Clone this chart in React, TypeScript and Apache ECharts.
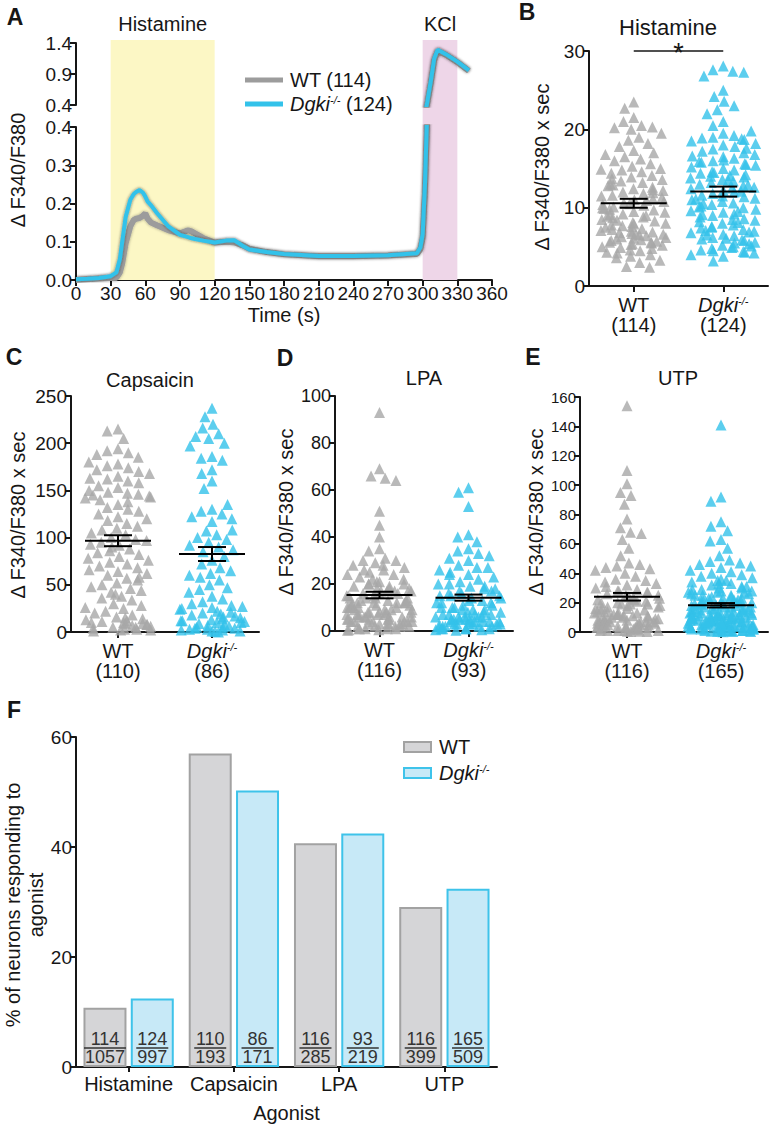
import React, { useEffect, useRef } from 'react';
import * as echarts from 'echarts';

const FONT = 'Liberation Sans, Arial, Helvetica, sans-serif';
const INK = '#161616';
const GRAY = '#a8a8a8';
const CYAN = '#33c2ea';

// ---------- Panel A: calcium traces ----------
const traceTime = [0, 10, 20, 30, 35, 38, 40, 43, 47, 50, 52, 55, 58, 60, 62, 65, 70, 80, 90, 97, 100, 103, 110, 120, 130, 137, 145, 150, 165, 180, 210, 240, 270, 295, 298, 300, 302, 304, 307, 310, 313, 320, 330, 340];
const traceWT = [0.0, 0.002, 0.004, 0.005, 0.006, 0.02, 0.043, 0.096, 0.14, 0.157, 0.16, 0.162, 0.168, 0.174, 0.16, 0.15, 0.143, 0.13, 0.122, 0.13, 0.127, 0.122, 0.11, 0.098, 0.1, 0.098, 0.09, 0.082, 0.073, 0.067, 0.062, 0.062, 0.064, 0.068, 0.08, 0.11, 0.23, 0.42, 0.75, 1.12, 1.27, 1.21, 1.09, 0.95];
const traceKO = [0.002, 0.003, 0.005, 0.01, 0.02, 0.055, 0.1, 0.165, 0.21, 0.225, 0.23, 0.235, 0.228, 0.218, 0.205, 0.195, 0.175, 0.14, 0.118, 0.112, 0.109, 0.107, 0.103, 0.098, 0.103, 0.104, 0.088, 0.08, 0.073, 0.068, 0.063, 0.063, 0.065, 0.07, 0.085, 0.12, 0.25, 0.45, 0.78, 1.15, 1.29, 1.22, 1.1, 0.96];
const stimulusNames = ['Histamine', 'KCl'];
const stimulusStart = [30, 300];
const stimulusEnd = [120, 330];
const traceNames = ['WT (114)', 'Dgki (124)'];

// ---------- Panels B–E: responses per neuron ----------
const groupLabels = ['WT', 'Dgki'];

const histWT = [23.5, 22.7, 21.5, 21.0, 20.5, 20.3, 20.2, 20.0, 19.5, 19.0, 18.6, 18.2, 17.8, 17.3, 17.0, 16.5, 16.2, 16.0, 15.6, 15.3, 15.0, 14.8, 14.6, 14.4, 14.1, 13.9, 13.6, 13.4, 13.2, 13.0, 12.8, 12.6, 12.4, 12.2, 12.0, 11.8, 11.6, 11.5, 11.3, 11.1, 11.0, 10.8, 10.6, 10.5, 10.3, 10.1, 10.0, 9.8, 9.7, 9.5, 9.4, 9.2, 9.1, 9.0, 8.8, 8.7, 8.5, 8.4, 8.3, 8.1, 8.0, 7.9, 7.7, 7.6, 7.5, 7.3, 7.2, 7.1, 7.0, 6.9, 6.8, 6.7, 6.6, 6.5, 6.4, 6.3, 6.2, 6.1, 6.0, 5.9, 5.8, 5.7, 5.6, 5.5, 5.4, 5.3, 5.2, 5.0, 4.9, 4.8, 4.6, 4.5, 4.3, 4.2, 4.0, 3.8, 3.6, 3.3, 3.0, 2.5, 2.4, 14.9, 12.9, 11.9, 10.9, 9.9, 8.9, 7.8, 6.6, 5.6, 16.8, 13.7, 12.3, 10.4];
const histKO = [28.1, 27.6, 27.4, 27.3, 26.8, 25.0, 24.2, 23.6, 23.0, 22.5, 22.0, 21.0, 20.5, 19.5, 19.2, 19.0, 18.9, 18.7, 18.5, 18.0, 17.8, 17.5, 17.2, 17.0, 16.8, 16.5, 16.3, 16.0, 15.8, 15.6, 15.4, 15.2, 15.0, 14.8, 14.6, 14.4, 14.2, 14.0, 13.8, 13.6, 13.4, 13.2, 13.0, 12.8, 12.6, 12.4, 12.2, 12.0, 11.8, 11.6, 11.4, 11.2, 11.0, 10.8, 10.6, 10.4, 10.2, 10.0, 9.8, 9.6, 9.4, 9.2, 9.0, 8.8, 8.6, 8.4, 8.2, 8.0, 7.8, 7.6, 7.4, 7.2, 7.0, 6.8, 6.6, 6.4, 6.2, 6.0, 5.8, 5.6, 5.4, 5.2, 5.0, 4.8, 4.6, 4.4, 4.2, 4.0, 3.8, 3.2, 17.6, 16.6, 15.5, 14.5, 13.5, 12.5, 11.5, 10.5, 9.5, 8.5, 7.5, 6.5, 5.5, 4.5, 19.8, 18.2, 16.1, 14.1, 12.1, 11.1, 10.1, 9.1, 8.1, 7.1, 6.1, 5.1, 4.3, 15.9, 13.9, 12.9, 6.9, 5.9, 4.9, 18.8];
const capWT = [215, 213, 205, 194, 192, 190, 188, 178, 176, 174, 172, 170, 165, 162, 160, 158, 155, 153, 148, 147, 146, 145, 144, 143, 142, 135, 132, 130, 128, 125, 122, 120, 118, 115, 112, 110, 108, 105, 103, 100, 98, 97, 95, 93, 92, 90, 88, 86, 84, 82, 80, 78, 76, 74, 72, 70, 68, 66, 64, 62, 60, 57, 55, 52, 50, 48, 46, 44, 42, 40, 38, 36, 34, 30, 28, 25, 22, 20, 18, 16, 14, 13, 12, 11, 10, 10, 9, 9, 8, 8, 7, 6, 5, 5, 4, 3, 3, 2, 2, 1, 150, 140, 138, 163, 168, 185, 180, 58, 26, 15];
const capKO = [237, 228, 220, 216, 210, 207, 205, 200, 197, 186, 184, 182, 172, 168, 160, 152, 130, 128, 125, 122, 120, 117, 107, 103, 100, 98, 95, 92, 90, 85, 80, 76, 72, 68, 65, 62, 58, 55, 50, 47, 45, 42, 38, 35, 32, 30, 28, 27, 26, 25, 24, 22, 20, 19, 18, 17, 16, 15, 14, 13, 12, 11, 10, 10, 9, 8, 7, 6, 5, 5, 4, 4, 3, 3, 2, 2, 1, 1, 0.5, 0, 135, 108, 87, 60, 21, 12];
const lpaWT = [93, 69, 66, 65, 64, 51, 45, 40, 35, 34, 31, 30, 30, 29, 28, 27, 26, 25, 24, 24, 23, 22, 22, 21, 21, 20, 20, 19, 19, 18, 18, 18, 17, 17, 17, 16, 16, 16, 15, 15, 15, 14, 14, 14, 13, 13, 13, 12, 12, 12, 12, 11, 11, 11, 11, 10, 10, 10, 10, 9, 9, 9, 9, 8, 8, 8, 8, 7, 7, 7, 7, 7, 6, 6, 6, 6, 6, 5, 5, 5, 5, 5, 4, 4, 4, 4, 4, 3, 3, 3, 3, 3, 3, 2, 2, 2, 2, 2, 1, 1, 1, 1, 1, 0.5, 0.5, 0.3, 28, 26, 20, 17, 14, 12, 10, 8, 6, 4];
const lpaKO = [61, 59, 53, 41, 40, 38, 35, 34, 33, 32, 31, 30, 28, 27, 27, 25, 24, 23, 22, 21, 20, 20, 19, 18, 18, 17, 17, 16, 16, 15, 15, 14, 14, 13, 13, 12, 12, 11, 11, 10, 10, 10, 9, 9, 9, 8, 8, 8, 7, 7, 7, 7, 6, 6, 6, 6, 5, 5, 5, 5, 5, 4, 4, 4, 4, 4, 3, 3, 3, 3, 3, 2, 2, 2, 2, 2, 1, 1, 1, 1, 0.5, 0.5, 0.3, 26, 24, 19, 15, 12, 6, 4, 3, 2, 1];
const utpWT = [154, 110, 101, 95, 93, 87, 77, 71, 68, 67, 63, 57, 52, 47, 46, 45, 44, 43, 42, 40, 38, 36, 35, 34, 33, 32, 30, 29, 28, 28, 27, 26, 25, 25, 24, 23, 23, 22, 21, 21, 20, 20, 19, 19, 18, 18, 17, 17, 16, 16, 15, 15, 14, 14, 13, 13, 12, 12, 12, 11, 11, 11, 10, 10, 10, 9, 9, 9, 8, 8, 8, 8, 7, 7, 7, 7, 6, 6, 6, 6, 5, 5, 5, 5, 4, 4, 4, 4, 3, 3, 3, 3, 2, 2, 2, 2, 1, 1, 1, 1, 0.5, 0.5, 0.3, 0.3, 31, 27, 24, 22, 19, 16, 13, 10, 7, 5, 3, 1];
const utpKO = [141, 92, 89, 75, 72, 69, 63, 62, 57, 52, 49, 48, 47, 46, 45, 44, 42, 41, 40, 39, 38, 37, 36, 35, 34, 33, 32, 31, 30, 30, 29, 28, 28, 27, 27, 26, 26, 25, 25, 24, 24, 23, 23, 22, 22, 21, 21, 20, 20, 20, 19, 19, 19, 18, 18, 18, 17, 17, 17, 16, 16, 16, 15, 15, 15, 14, 14, 14, 13, 13, 13, 13, 12, 12, 12, 12, 11, 11, 11, 11, 10, 10, 10, 10, 9, 9, 9, 9, 9, 8, 8, 8, 8, 8, 7, 7, 7, 7, 7, 6, 6, 6, 6, 6, 6, 5, 5, 5, 5, 5, 5, 4, 4, 4, 4, 4, 4, 3, 3, 3, 3, 3, 3, 2, 2, 2, 2, 2, 2, 1, 1, 1, 1, 1, 0.5, 0.5, 0.5, 0.3, 0.3, 0.2, 35, 33, 31, 29, 27, 25, 23, 21, 19, 17, 15, 13, 11, 9, 7, 5, 3, 1, 12, 10, 8, 6, 4, 2, 14];

const histN = [114, 124];
const capN = [110, 86];
const lpaN = [116, 93];
const utpN = [116, 165];
const histMean = [10.56, 12.05];
const histSem = [0.57, 0.64];
const capMean = [96.7, 82.6];
const capSem = [5.8, 7.4];
const lpaMean = [15.3, 14.2];
const lpaSem = [1.4, 1.3];
const utpMean = [24.0, 18.2];
const utpSem = [2.6, 1.5];
const histSig = [[0, 1, 30]];
const histSigLabel = ['*'];

// ---------- Panel F ----------
const agonists = ['Histamine', 'Capsaicin', 'LPA', 'UTP'];
const respWT = [114, 110, 116, 116];
const totalWT = [1057, 193, 285, 399];
const respKO = [124, 86, 93, 165];
const totalKO = [997, 171, 219, 509];

const axisLine = { show: true, lineStyle: { color: INK, width: 2 } };
const tick = (len: number) => ({ show: true, length: len, lineStyle: { color: INK, width: 2 } });
const tickLabel = { fontSize: 19, color: INK, fontFamily: FONT };

const groupRich = {
  a: { fontSize: 20, lineHeight: 20, color: INK, fontFamily: FONT },
  i: { fontSize: 20, lineHeight: 20, color: INK, fontFamily: FONT, fontStyle: 'italic' },
  s: { fontSize: 11, lineHeight: 20, color: INK, fontFamily: FONT, fontStyle: 'italic', verticalAlign: 'top' },
};

function groupAxis(gridIndex: number, ns: number[]) {
  return {
    type: 'category', gridIndex, data: groupLabels, boundaryGap: true,
    jitter: 66, jitterOverlap: false, jitterMargin: 0,
    axisLine, axisTick: { ...tick(6), alignWithLabel: true },
    axisLabel: {
      interval: 0, margin: 9, ...tickLabel, fontSize: 20, rich: groupRich,
      formatter: (_v: string, i: number) => i === 0 ? `{a|WT}\n{a|(${ns[0]})}` : `{i|Dgki}{s|-/-}\n{a|(${ns[1]})}`,
    },
    splitLine: { show: false },
  };
}
function valueAxis(gridIndex: number, max: number, interval: number, fontSize = 19) {
  return {
    type: 'value', gridIndex, min: 0, max, interval,
    axisLine, axisTick: tick(6), axisLabel: { ...tickLabel, fontSize, margin: 4 }, splitLine: { show: false },
  };
}

const meanRender = (_p: any, api: any) => {
  const x = api.value(0), m = api.value(1), s = api.value(2);
  const c = api.coord([x, m]);
  const t = api.coord([x, m + s]);
  const b = api.coord([x, m - s]);
  const st = { stroke: '#000', lineWidth: 2 };
  return {
    type: 'group', children: [
      { type: 'line', shape: { x1: c[0] - 33, y1: c[1], x2: c[0] + 33, y2: c[1] }, style: st },
      { type: 'line', shape: { x1: c[0], y1: t[1], x2: c[0], y2: b[1] }, style: st },
      { type: 'line', shape: { x1: c[0] - 14, y1: t[1], x2: c[0] + 14, y2: t[1] }, style: st },
      { type: 'line', shape: { x1: c[0] - 14, y1: b[1], x2: c[0] + 14, y2: b[1] }, style: st },
    ],
  };
};

function scatterSet(axisIndex: number, wt: number[], ko: number[], mean: number[], sem: number[]) {
  return [
    { type: 'scatter', name: 'wt' + axisIndex, xAxisIndex: axisIndex, yAxisIndex: axisIndex, data: wt.map(v => [0, v]), symbol: 'triangle', symbolSize: 11, itemStyle: { color: GRAY }, z: 2 },
    { type: 'scatter', name: 'ko' + axisIndex, xAxisIndex: axisIndex, yAxisIndex: axisIndex, data: ko.map(v => [1, v]), symbol: 'triangle', symbolSize: 11, itemStyle: { color: CYAN }, z: 2 },
    { type: 'custom', name: 'mean' + axisIndex, xAxisIndex: axisIndex, yAxisIndex: axisIndex, data: mean.map((m, i) => [i, m, sem[i]]), encode: { x: 0, y: 1 }, renderItem: meanRender, z: 6 },
  ];
}

function textEl(text: string, x: number, y: number, font: string, rotate = false) {
  return {
    type: 'text', x, y, rotation: rotate ? Math.PI / 2 : 0,
    style: { text, font, fill: INK, align: 'center', verticalAlign: 'middle', textAlign: 'center', textVerticalAlign: 'middle', lineHeight: 23 },
  };
}

export default function App() {
  const ref = useRef<HTMLDivElement>(null);
  useEffect(() => {
    if (!ref.current) return;
    const chart = echarts.init(ref.current, null, { renderer: 'svg' });
    const fracRich = {
      n: { fontSize: 18, lineHeight: 16, color: '#333', fontFamily: FONT },
      d: { fontSize: 18, lineHeight: 16, color: '#333', fontFamily: FONT },
      l3: { width: 32, height: 1.3, lineHeight: 2, fontSize: 1, backgroundColor: '#333' },
      l4: { width: 42, height: 1.3, lineHeight: 2, fontSize: 1, backgroundColor: '#333' },
    };
    const fracLabel = (resp: number[], total: number[]) => ({
      show: true, position: 'insideBottom', distance: 2, rich: fracRich,
      formatter: (p: any) => {
        const n = resp[p.dataIndex], d = total[p.dataIndex];
        const w = Math.max(String(n).length, String(d).length) > 3 ? 'l4' : 'l3';
        return `{n|${n}}\n{${w}| }\n{d|${d}}`;
      },
    });
    const traceData = (vals: number[]) => traceTime.map((t, i) => [t, vals[i]]);
    const wtLine = { color: '#9c9c9c', width: 6, shadowColor: 'rgba(0,0,0,0.35)', shadowBlur: 3 };
    const koLine = { color: CYAN, width: 4, shadowColor: 'rgba(30,30,30,0.65)', shadowBlur: 3 };
    const legendRich = {
      i: { fontSize: 20, fontStyle: 'italic', fontFamily: FONT, color: INK },
      s: { fontSize: 11, fontStyle: 'italic', verticalAlign: 'top', fontFamily: FONT, color: INK },
      a: { fontSize: 20, fontFamily: FONT, color: INK },
    };

    const option: any = {
      animation: false,
      textStyle: { fontFamily: FONT },
      grid: [
        { left: 76, top: 43, width: 416, height: 62 },
        { left: 76, top: 127, width: 416, height: 153 },
        { left: 76, top: 40, width: 416, height: 240 },
        { left: 589, top: 51, width: 179, height: 235 },
        { left: 71, top: 396, width: 188, height: 236 },
        { left: 335, top: 396, width: 178, height: 235 },
        { left: 580, top: 397, width: 188, height: 235 },
        { left: 76, top: 737, width: 421, height: 330 },
      ],
      xAxis: [
        { type: 'value', gridIndex: 0, min: 0, max: 360, show: false },
        {
          type: 'value', gridIndex: 1, min: 0, max: 360, interval: 30,
          axisLine, axisTick: tick(6), axisLabel: { ...tickLabel, margin: 4 }, splitLine: { show: false },
          name: 'Time (s)', nameLocation: 'middle', nameGap: 25, nameTextStyle: { fontSize: 20, color: INK, fontFamily: FONT },
        },
        { type: 'value', gridIndex: 2, min: 0, max: 360, show: false },
        groupAxis(3, histN),
        groupAxis(4, capN),
        groupAxis(5, lpaN),
        groupAxis(6, utpN),
        {
          type: 'category', gridIndex: 7, data: agonists, axisLine, axisTick: { ...tick(5), alignWithLabel: true },
          axisLabel: { ...tickLabel, fontSize: 20, margin: 7, interval: 0 },
          name: 'Agonist', nameLocation: 'middle', nameGap: 36, nameTextStyle: { fontSize: 20, color: INK, fontFamily: FONT },
        },
      ],
      yAxis: [
        { type: 'value', gridIndex: 0, min: 0.4, max: 1.4, interval: 0.5, axisLine, axisTick: tick(6), axisLabel: { ...tickLabel, margin: 4, formatter: (v: number) => v.toFixed(1) }, splitLine: { show: false } },
        { type: 'value', gridIndex: 1, min: 0, max: 0.4, interval: 0.1, axisLine, axisTick: tick(6), axisLabel: { ...tickLabel, margin: 4, formatter: (v: number) => v.toFixed(1) }, splitLine: { show: false } },
        { type: 'value', gridIndex: 2, min: 0, max: 1, show: false },
        valueAxis(3, 30, 10),
        valueAxis(4, 250, 50),
        valueAxis(5, 100, 20, 18),
        valueAxis(6, 160, 20, 15),
        valueAxis(7, 60, 20),
      ],
      legend: [
        {
          left: 240, top: 65, orient: 'vertical', itemWidth: 38, itemHeight: 5, itemGap: 4, icon: 'rect',
          data: traceNames, selectedMode: false,
          textStyle: { fontSize: 20, color: INK, fontFamily: FONT, padding: [0, 0, 0, 2], rich: legendRich },
          formatter: (name: string) => name.startsWith('Dgki') ? '{i|Dgki}{s|-/-}{a| (124)}' : name,
        },
        {
          left: 398, top: 732, orient: 'vertical', itemWidth: 27, itemHeight: 10, itemGap: 6, icon: 'rect',
          data: ['WT', 'Dgki'], selectedMode: false,
          textStyle: { fontSize: 20, color: INK, fontFamily: FONT, padding: [0, 0, 0, 3], rich: legendRich },
          formatter: (name: string) => name === 'Dgki' ? '{i|Dgki}{s|-/-}' : name,
        },
      ],
      series: [
        {
          type: 'line', name: 'bands', xAxisIndex: 2, yAxisIndex: 2, data: [[0, 0]], symbol: 'none', lineStyle: { opacity: 0 }, z: 0, silent: true,
          markArea: {
            silent: true,
            data: stimulusNames.map((n, i) => [
              { xAxis: stimulusStart[i], yAxis: 0, name: n, itemStyle: { color: i === 0 ? '#fcf7c5' : '#eed6e8' } },
              { xAxis: stimulusEnd[i], yAxis: 1 },
            ]),
            label: { show: true, position: 'top', distance: 6, fontSize: 20, color: INK, fontFamily: FONT },
          },
        },
        { type: 'line', name: traceNames[0], xAxisIndex: 0, yAxisIndex: 0, data: traceData(traceWT), symbol: 'none', lineStyle: wtLine, itemStyle: { color: '#9c9c9c' }, clip: true, z: 3 },
        { type: 'line', name: traceNames[1], xAxisIndex: 0, yAxisIndex: 0, data: traceData(traceKO), symbol: 'none', lineStyle: koLine, itemStyle: { color: CYAN }, clip: true, z: 4 },
        { type: 'line', name: traceNames[0], xAxisIndex: 1, yAxisIndex: 1, data: traceData(traceWT), symbol: 'none', lineStyle: wtLine, itemStyle: { color: '#9c9c9c' }, clip: true, z: 3 },
        { type: 'line', name: traceNames[1], xAxisIndex: 1, yAxisIndex: 1, data: traceData(traceKO), symbol: 'none', lineStyle: koLine, itemStyle: { color: CYAN }, clip: true, z: 4 },
        ...scatterSet(3, histWT, histKO, histMean, histSem),
        ...scatterSet(4, capWT, capKO, capMean, capSem),
        ...scatterSet(5, lpaWT, lpaKO, lpaMean, lpaSem),
        ...scatterSet(6, utpWT, utpKO, utpMean, utpSem),
        {
          type: 'custom', name: 'sig', xAxisIndex: 3, yAxisIndex: 3, data: histSig, encode: { x: [0, 1], y: 2 }, z: 6,
          renderItem: (p: any, api: any) => {
            const a = api.coord([api.value(0), api.value(2)]);
            const b = api.coord([api.value(1), api.value(2)]);
            return {
              type: 'group', children: [
                { type: 'line', shape: { x1: a[0], y1: a[1], x2: b[0], y2: b[1] }, style: { stroke: INK, lineWidth: 1.5 } },
                { type: 'text', x: (a[0] + b[0]) / 2, y: a[1] + 2, style: { text: histSigLabel[p.dataIndex], font: '27px ' + FONT, fill: INK, align: 'center', verticalAlign: 'middle' } },
              ],
            };
          },
        },
        {
          type: 'bar', name: 'WT', xAxisIndex: 7, yAxisIndex: 7, barWidth: 43, barGap: '10%',
          data: respWT.map((r, i) => (r / totalWT[i]) * 100),
          itemStyle: { color: '#d5d5d7', borderColor: '#a2a2a2', borderWidth: 2 },
          label: fracLabel(respWT, totalWT),
        },
        {
          type: 'bar', name: 'Dgki', xAxisIndex: 7, yAxisIndex: 7, barWidth: 43, barGap: '10%',
          data: respKO.map((r, i) => (r / totalKO[i]) * 100),
          itemStyle: { color: '#c7e9f7', borderColor: '#3ec3ea', borderWidth: 2 },
          label: fracLabel(respKO, totalKO),
        },
      ],
      graphic: [
        textEl('A', 15, 17, 'bold 23px ' + FONT),
        textEl('B', 527, 12, 'bold 23px ' + FONT),
        textEl('C', 14, 357, 'bold 23px ' + FONT),
        textEl('D', 285, 358, 'bold 23px ' + FONT),
        textEl('E', 533, 357, 'bold 23px ' + FONT),
        textEl('F', 14, 710, 'bold 23px ' + FONT),
        textEl('Histamine', 668, 27, '22px ' + FONT),
        textEl('Capsaicin', 150, 380, '20px ' + FONT),
        textEl('LPA', 424, 378, '20px ' + FONT),
        textEl('UTP', 678, 378, '20px ' + FONT),
        textEl('Δ F340/F380', 18, 170, '20px ' + FONT, true),
        textEl('Δ F340/F380 x sec', 542, 167, '20px ' + FONT, true),
        textEl('Δ F340/F380 x sec', 18, 515, '20px ' + FONT, true),
        textEl('Δ F340/F380 x sec', 286, 512, '20px ' + FONT, true),
        textEl('Δ F340/F380 x sec', 536, 512, '20px ' + FONT, true),
        textEl('% of neurons responding to\nagonist', 24, 905, '20px ' + FONT, true),
      ],
    };
    chart.setOption(option);
    return () => chart.dispose();
  }, []);
  return <div ref={ref} style={{ width: 770, height: 1128, position: 'absolute', left: 0, top: 0 }} />;
}
